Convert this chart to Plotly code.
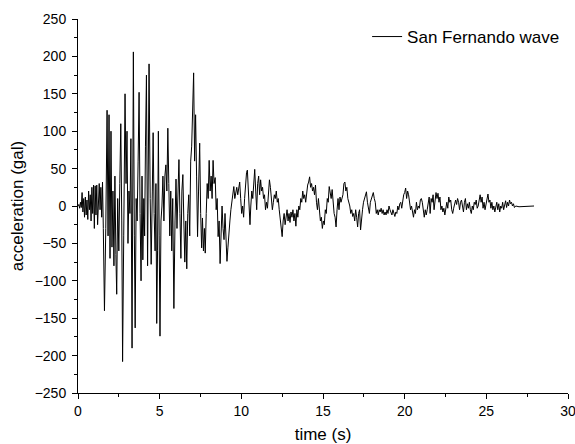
import plotly.graph_objects as go

time_s = [
0.00,0.05,0.10,0.15,0.20,0.25,0.30,0.35,0.40,0.45,0.50,0.55,0.60,0.65,0.70,0.75,0.80,0.85,0.90,0.95,
1.00,1.05,1.10,1.15,1.20,1.25,1.30,1.35,1.40,1.45,1.50,1.55,1.62,1.70,1.78,1.84,1.90,1.96,2.02,2.08,
2.14,2.20,2.26,2.32,2.37,2.43,2.50,2.56,2.62,2.68,2.73,2.80,2.88,2.94,3.00,3.06,3.12,3.18,3.24,3.31,
3.39,3.45,3.50,3.56,3.62,3.68,3.74,3.80,3.86,3.92,3.97,4.03,4.08,4.13,4.19,4.26,4.30,4.35,4.42,4.48,
4.55,4.60,4.66,4.72,4.77,4.82,4.87,4.92,4.97,5.02,5.08,5.14,5.20,5.26,5.32,5.38,5.44,5.50,5.56,5.62,
5.68,5.74,5.80,5.87,5.94,6.00,6.06,6.12,6.18,6.24,6.30,6.36,6.42,6.48,6.54,6.60,6.66,6.72,6.78,6.84,
6.90,6.96,7.02,7.08,7.14,7.20,7.26,7.32,7.38,7.45,7.51,7.57,7.62,7.68,7.74,7.79,7.85,7.91,7.97,8.03,
8.09,8.15,8.21,8.27,8.33,8.40,8.46,8.52,8.58,8.64,8.70,8.76,8.82,8.88,8.94,9.00,9.06,9.12,9.18,9.24,
9.30,9.36,9.42,9.48,9.54,9.60,9.66,9.72,9.78,9.84,9.90,9.96,10.02,10.08,10.14,10.20,10.26,10.32,10.37,10.43,
10.48,10.53,10.58,10.64,10.70,10.76,10.82,10.88,10.94,11.00,11.06,11.12,11.18,11.24,11.30,11.36,11.42,11.48,11.54,11.60,
11.66,11.72,11.78,11.84,11.90,11.96,12.02,12.08,12.14,12.20,12.26,12.32,12.38,12.44,12.50,12.56,12.62,12.68,12.74,12.80,
12.86,12.92,12.98,13.04,13.10,13.16,13.22,13.28,13.34,13.40,13.46,13.52,13.58,13.64,13.70,13.76,13.82,13.88,13.94,14.00,
14.06,14.12,14.18,14.24,14.30,14.36,14.42,14.48,14.54,14.60,14.66,14.72,14.78,14.84,14.90,14.96,15.02,15.08,15.14,15.20,
15.26,15.32,15.38,15.44,15.50,15.56,15.62,15.68,15.74,15.80,15.86,15.92,15.98,16.04,16.10,16.16,16.22,16.28,16.34,16.40,
16.46,16.52,16.58,16.64,16.70,16.76,16.82,16.88,16.94,17.00,17.06,17.12,17.18,17.24,17.30,17.36,17.42,17.48,17.54,17.60,
17.66,17.72,17.78,17.84,17.90,17.96,18.02,18.08,18.14,18.20,18.26,18.32,18.38,18.44,18.50,18.56,18.62,18.68,18.74,18.80,
18.86,18.92,18.98,19.04,19.10,19.16,19.22,19.28,19.34,19.40,19.46,19.52,19.58,19.64,19.70,19.76,19.82,19.88,19.94,20.00,
20.06,20.12,20.18,20.24,20.30,20.36,20.42,20.48,20.54,20.60,20.66,20.72,20.78,20.84,20.90,20.96,21.02,21.08,21.14,21.20,
21.26,21.32,21.38,21.44,21.50,21.56,21.62,21.68,21.74,21.80,21.86,21.92,21.98,22.04,22.10,22.16,22.22,22.28,22.34,22.40,
22.46,22.52,22.58,22.64,22.70,22.76,22.82,22.88,22.94,23.00,23.06,23.12,23.18,23.24,23.30,23.36,23.42,23.48,23.54,23.60,
23.66,23.72,23.78,23.84,23.90,23.96,24.02,24.08,24.14,24.20,24.26,24.32,24.38,24.44,24.50,24.56,24.62,24.68,24.74,24.80,
24.86,24.92,24.98,25.04,25.10,25.16,25.22,25.28,25.34,25.40,25.46,25.52,25.58,25.64,25.70,25.76,25.82,25.88,25.94,26.00,
26.06,26.12,26.18,26.24,26.30,26.36,26.42,26.48,26.54,26.60,26.66,26.72,26.80,27.00,27.40,27.92]

acceleration_gal = [
0,2,-3,5,-2,18,-8,10,-15,12,-12,8,-18,20,-5,15,-20,25,-10,28,
-30,27,-12,28,-25,10,30,-5,25,-15,32,-30,-140,-30,128,-40,122,-70,100,-55,
20,-80,40,-65,-118,10,-60,30,110,-20,-208,-40,150,30,100,-50,20,-10,90,-190,
206,-40,-163,10,-20,60,152,-10,-100,40,-72,10,-40,80,175,-80,60,190,10,-78,
20,98,-10,-60,30,-157,-60,100,-40,-174,-20,0,40,-20,40,55,20,104,30,-40,
20,-60,10,-137,-20,36,-30,10,62,-10,-70,20,42,-20,-75,-20,-84,-10,15,-40,
60,80,120,178,60,122,40,-41,20,84,-10,-56,-16,-60,-30,-63,-10,30,10,61,
20,40,10,61,30,38,-5,10,-41,-20,-77,-40,0,-30,-45,-10,-50,-74,-55,-30,
-20,-5,5,20,26,10,20,25,15,28,32,10,-10,0,-15,10,30,45,48,10,
-10,-25,0,20,10,35,49,20,-5,30,40,15,35,20,25,10,15,-5,5,-3,
20,35,25,10,-5,5,15,10,20,5,10,-5,-20,-30,-41,-20,-10,-25,-15,-5,
-20,-10,-22,-8,-15,-5,-20,-10,-27,-5,-15,0,-5,10,5,20,10,15,5,20,
28,32,39,25,30,20,25,15,28,5,-5,10,-10,-20,-15,-30,-20,-25,-5,-10,
10,5,26,20,10,22,0,-10,-15,-28,-5,10,-5,12,5,10,15,30,32,20,
25,10,5,0,-10,-5,-14,-10,-20,-5,-15,-28,-10,-5,-32,-15,-5,5,10,15,
19,5,-5,-10,5,10,15,18,10,5,-10,-5,-12,-5,-8,-3,-10,-5,-12,-8,
-12,-5,-10,0,-5,-8,-12,-5,-10,-14,-8,-10,0,-5,3,5,-3,8,15,18,
24,10,20,15,5,-5,0,-10,-15,-5,-10,5,-5,0,-3,8,10,5,-10,-15,
-5,-12,-5,8,12,-10,10,5,15,-5,5,18,10,17,5,12,-5,0,-8,-3,
-12,-5,5,-3,12,5,8,-5,-10,-3,5,8,2,10,5,-5,5,8,0,-8,
5,10,-5,3,-3,5,-5,-10,0,-5,5,2,8,-3,0,10,15,5,12,-3,
5,-5,3,10,16,5,8,-3,5,-5,0,-8,-3,5,-5,3,-8,0,-3,5,
-5,2,7,-2,5,0,8,3,5,0,3,-2,0,-1,-1,0]

series_name = "San Fernando wave"
x_ticks = [0, 5, 10, 15, 20, 25, 30]
y_ticks = [-250, -200, -150, -100, -50, 0, 50, 100, 150, 200, 250]

FONT = "Liberation Sans, Arial, sans-serif"

fig = go.Figure()
fig.add_trace(go.Scatter(x=time_s, y=acceleration_gal, mode="lines",
                         line=dict(color="black", width=1), name=series_name))

axis_common = dict(showline=True, linecolor="black", linewidth=1, showgrid=False,
                   zeroline=False, ticks="outside", ticklen=5, tickcolor="black",
                   automargin=False, ticklabeloverflow="allow",
                   tickfont=dict(family=FONT, size=14, color="black"))

fig.update_xaxes(range=[0, 30], tickvals=x_ticks,
                 title=dict(text="time (s)", font=dict(family=FONT, size=17, color="black"), standoff=12),
                 minor=dict(dtick=2.5, tick0=0, ticks="outside", ticklen=3, tickcolor="black"),
                 **axis_common)
fig.update_yaxes(range=[-250, 250], tickvals=y_ticks, ticklabelstandoff=3,
                 title=dict(text="acceleration (gal)", font=dict(family=FONT, size=17, color="black"), standoff=6),
                 minor=dict(dtick=25, tick0=0, ticks="outside", ticklen=3, tickcolor="black"),
                 **axis_common)

fig.update_layout(
    width=575, height=444,
    margin=dict(l=78, r=7, t=19, b=51),
    paper_bgcolor="white", plot_bgcolor="white",
    font=dict(family=FONT, color="black"),
    showlegend=True,
    legend=dict(x=0.59, y=1, xanchor="left", yanchor="top", bgcolor="rgba(0,0,0,0)",
                font=dict(family=FONT, size=17, color="black")),
)

fig.write_html("out.html")
